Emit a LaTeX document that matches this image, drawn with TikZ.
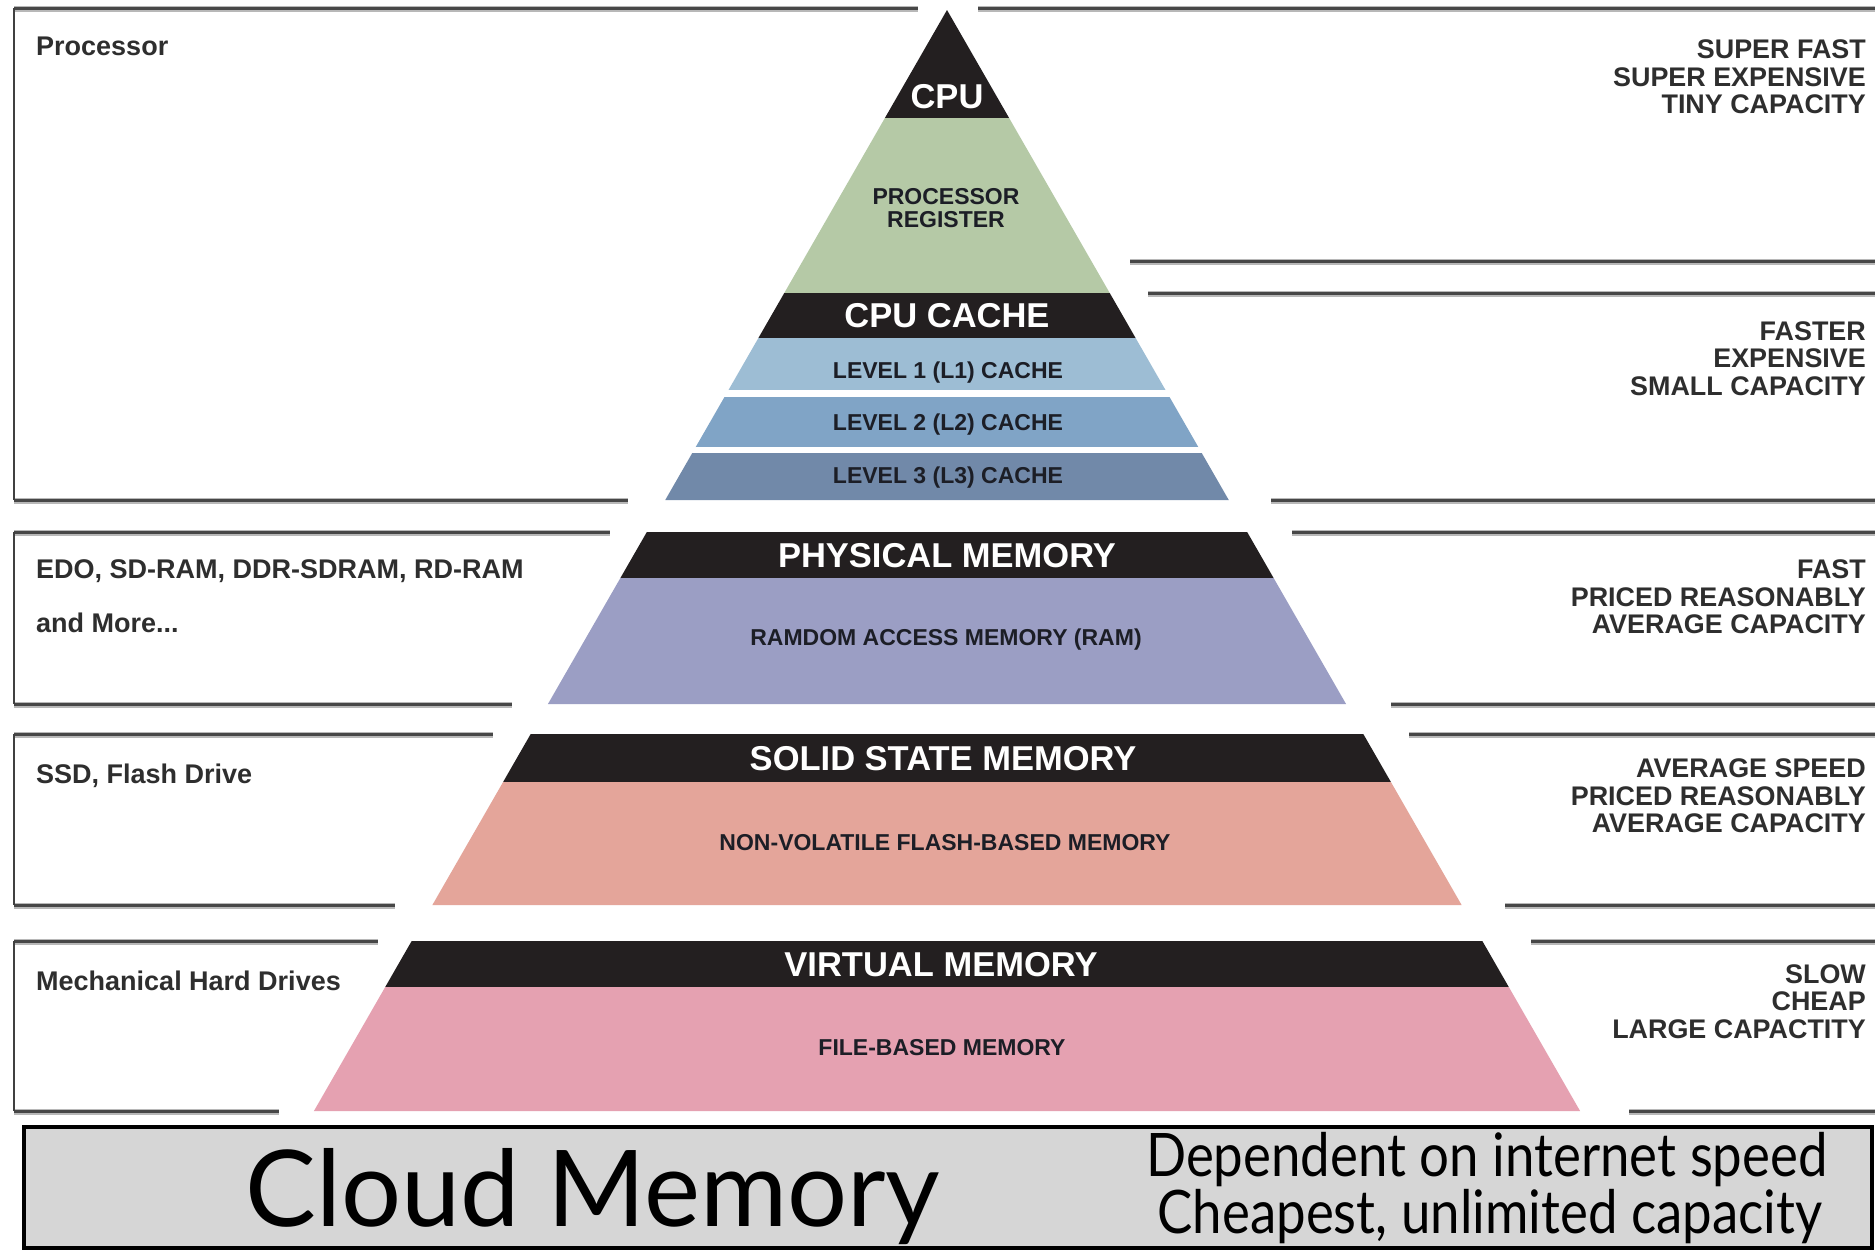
\documentclass[tikz,border=0pt]{standalone}
\usepackage{fontspec}
\setmainfont{Liberation Sans}
\newfontfamily\cloudfont{Lato}
\definecolor{bandblack}{HTML}{231F20}
\definecolor{regreen}{HTML}{B5C9A6}
\definecolor{lone}{HTML}{9DBDD4}
\definecolor{ltwo}{HTML}{80A4C6}
\definecolor{lthree}{HTML}{7189A9}
\definecolor{ramblue}{HTML}{9B9EC4}
\definecolor{ssdsalmon}{HTML}{E4A59A}
\definecolor{filepink}{HTML}{E5A1B1}
\definecolor{cloudgray}{HTML}{D6D6D6}
\definecolor{labelgray}{HTML}{2E2E2E}
\definecolor{pyrtext}{HTML}{1C1E26}
\newcommand{\pyrslice}[3]{%
  \pgfmathsetmacro{\pha}{0.575*(#1-10)}%
  \pgfmathsetmacro{\phb}{0.575*(#2-10)}%
  \fill[#3] ({947-\pha},#1) -- ({947+\pha},#1) -- ({947+\phb},#2) -- ({947-\phb},#2) -- cycle;}
\begin{document}
\begin{tikzpicture}[x=1pt,y=-1pt,
  brshadow/.style={line width=6pt, draw=black!28},
  brline/.style={line width=3pt, draw=black!72},
  brside/.style={line width=2pt, draw=black!75},
  leftlbl/.style={inner sep=0pt, anchor=base west, text=labelgray, font=\fontsize{27}{29}\selectfont\bfseries},
  rightlbl/.style={inner sep=0pt, anchor=base east, text=labelgray, font=\fontsize{26.9}{28}\selectfont\bfseries},
  bandlbl/.style={inner sep=0pt, anchor=base, text=white, font=\fontsize{34.5}{36}\selectfont\bfseries},
  tierlbl/.style={inner sep=0pt, anchor=base, text=pyrtext, font=\fontsize{23}{25}\selectfont\bfseries},
  cloudlbl/.style={inner sep=0pt, anchor=base, text=black}]
\useasboundingbox (0,0) rectangle (1875,1250);
\fill[white] (0,0) rectangle (1875,1250);

% ---------- bracket lines ----------
\foreach \xa/\ya/\xb in {14/8/918, 978/8/1875, 14/500/628, 1130/261/1875, 1148/293/1875, 1271/500/1875,
  14/532/610, 14/704/512, 1292/532/1875, 1391/704/1875,
  14/734/493, 14/905/395, 1409/734/1875, 1505/905/1875,
  14/941/378, 14/1111/279, 1531/941/1875, 1629/1111/1875}{
  \draw[brshadow] (\xa,\ya+1) -- (\xb,\ya+1);
  \draw[brline] (\xa,\ya) -- (\xb,\ya);
}
\draw[brside] (14,8) -- (14,500);
\draw[brside] (14,532) -- (14,704);
\draw[brside] (14,734) -- (14,905);
\draw[brside] (14,941) -- (14,1111);

% ---------- pyramid ----------
\pyrslice{10}{118}{bandblack}
\pyrslice{118}{293}{regreen}
\pyrslice{293}{338}{bandblack}
\pyrslice{338}{390}{lone}
\pyrslice{390}{397}{white}
\pyrslice{397}{447}{ltwo}
\pyrslice{447}{453}{white}
\pyrslice{453}{500}{lthree}
\pyrslice{532}{578}{bandblack}
\pyrslice{578}{704}{ramblue}
\pyrslice{734}{782}{bandblack}
\pyrslice{782}{905}{ssdsalmon}
\pyrslice{941}{987}{bandblack}
\pyrslice{987}{1111}{filepink}

% ---------- pyramid labels ----------
\node[bandlbl] (cpu) at (947,108) {CPU};
\node[tierlbl] (reg1) at (946,204) {PROCESSOR};
\node[tierlbl] (reg2) at (946,227) {REGISTER};
\node[bandlbl] (cache) at (947,327) {CPU CACHE};
\node[tierlbl] (l1) at (948,378) {LEVEL 1 (L1) CACHE};
\node[tierlbl] (l2) at (948,430) {LEVEL 2 (L2) CACHE};
\node[tierlbl] (l3) at (948,483) {LEVEL 3 (L3) CACHE};
\node[bandlbl] (phys) at (947,567) {PHYSICAL MEMORY};
\node[tierlbl] (ram) at (946,645) {RAMDOM ACCESS MEMORY (RAM)};
\node[bandlbl] (ssd) at (943,770) {SOLID STATE MEMORY};
\node[tierlbl] (flash) at (945,850) {NON-VOLATILE FLASH-BASED MEMORY};
\node[bandlbl] (virt) at (941,976) {VIRTUAL MEMORY};
\node[tierlbl] (file) at (942,1055) {FILE-BASED MEMORY};

% ---------- left labels ----------
\node[leftlbl] (proc) at (36,55) {Processor};
\node[leftlbl] (edo) at (36,578) {EDO, SD-RAM, DDR-SDRAM, RD-RAM};
\node[leftlbl] (more) at (36,632) {and More...};
\node[leftlbl] (ssdl) at (36,783) {SSD, Flash Drive};
\node[leftlbl] (mech) at (36,990) {Mechanical Hard Drives};

% ---------- right labels ----------
\node[rightlbl] (ra1) at (1866,58.5) {SUPER FAST};
\node[rightlbl] (ra2) at (1866,86) {SUPER EXPENSIVE};
\node[rightlbl] (ra3) at (1866,113.5) {TINY CAPACITY};
\node[rightlbl] (rb1) at (1866,340) {FASTER};
\node[rightlbl] (rb2) at (1866,367.5) {EXPENSIVE};
\node[rightlbl] (rb3) at (1866,395) {SMALL CAPACITY};
\node[rightlbl] (rc1) at (1866,578.5) {FAST};
\node[rightlbl] (rc2) at (1866,606) {PRICED REASONABLY};
\node[rightlbl] (rc3) at (1866,633.5) {AVERAGE CAPACITY};
\node[rightlbl] (rd1) at (1866,777.5) {AVERAGE SPEED};
\node[rightlbl] (rd2) at (1866,805) {PRICED REASONABLY};
\node[rightlbl] (rd3) at (1866,832.5) {AVERAGE CAPACITY};
\node[rightlbl] (re1) at (1866,983) {SLOW};
\node[rightlbl] (re2) at (1866,1010.5) {CHEAP};
\node[rightlbl] (re3) at (1866,1038) {LARGE CAPACTITY};

% ---------- cloud box ----------
\draw[line width=4.5pt, draw=black, fill=cloudgray] (24,1127) rectangle (1872,1248);
\node[cloudlbl, font=\cloudfont\fontsize{106}{110}\selectfont] (cloud) at (593,1226) {Cloud Memory};
\node[cloudlbl, font=\cloudfont\fontsize{60}{64}\selectfont] (dep) at (1487,1176) {\scalebox{0.88}[1]{Dependent on internet speed}};
\node[cloudlbl, font=\cloudfont\fontsize{60}{64}\selectfont] (cheap) at (1490,1233) {\scalebox{0.88}[1]{Cheapest, unlimited capacity}};
\end{tikzpicture}
\end{document}
